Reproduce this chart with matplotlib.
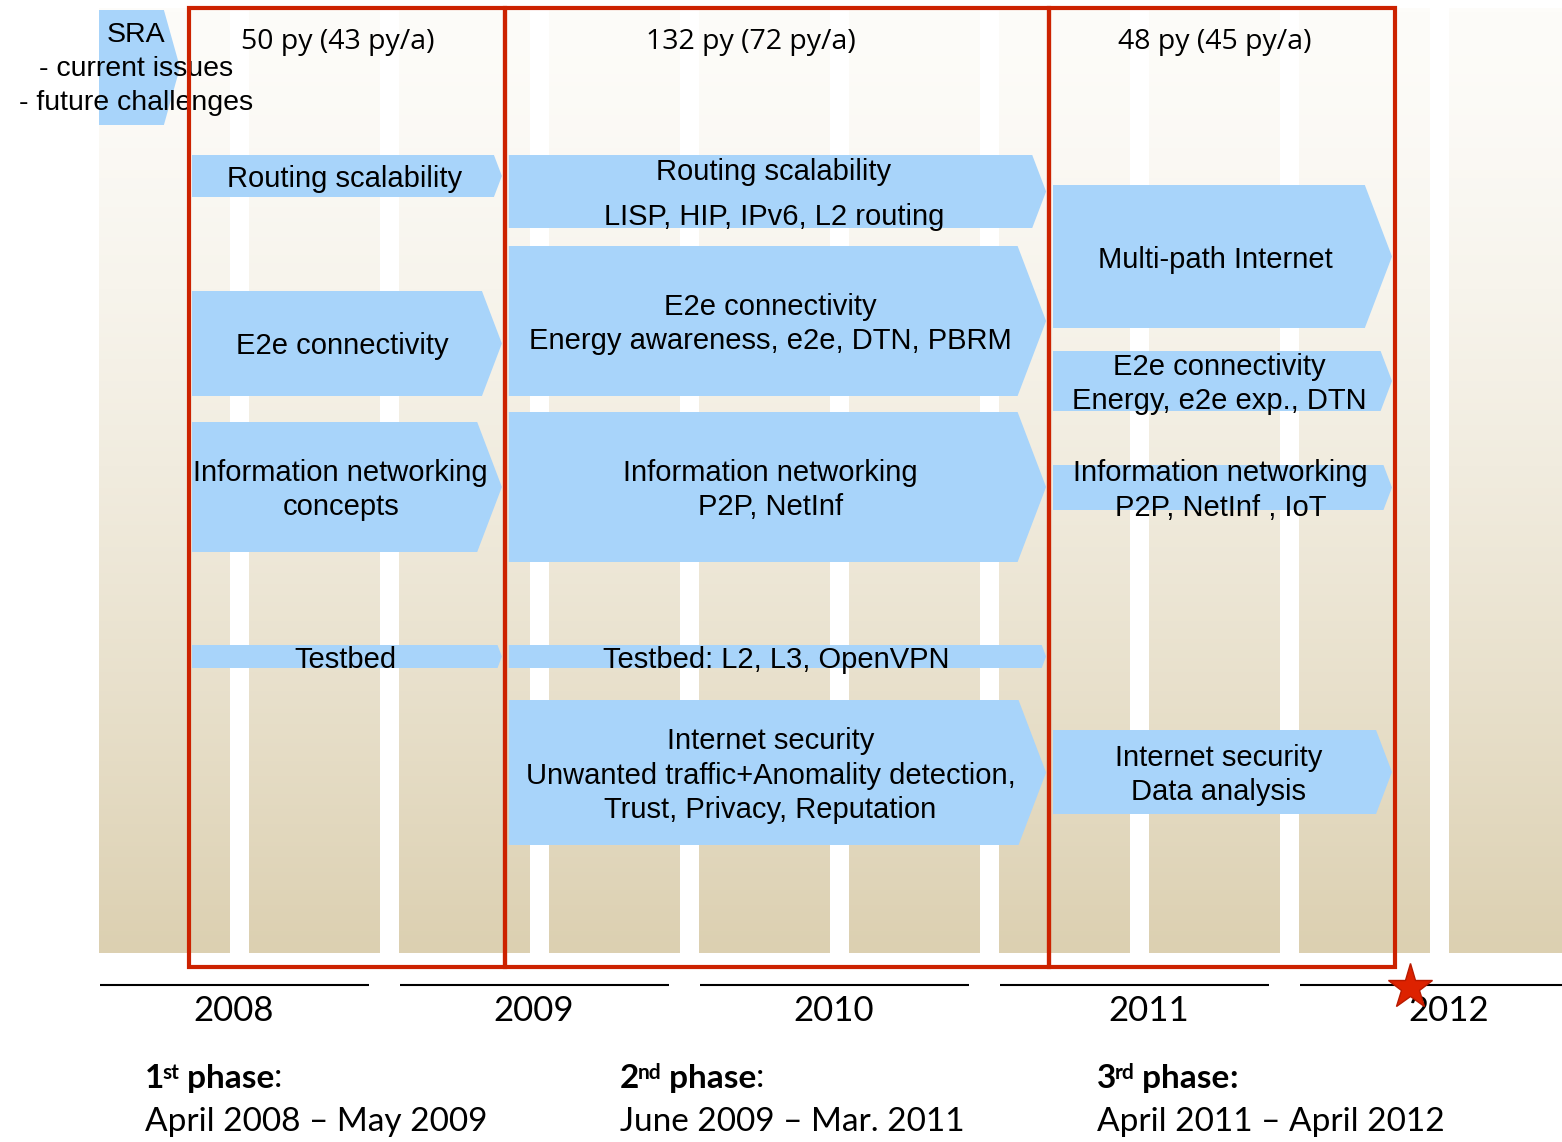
import numpy as np
import matplotlib.pyplot as plt
from matplotlib.patches import Polygon, Rectangle

# ---- data ----
years = [2008, 2009, 2010, 2011, 2012]
phase_num = ['1', '2', '3']
phase_sup = ['st', 'nd', 'rd']
phase_start = [2008.30, 2009.353, 2011.167]
phase_end = [2009.353, 2011.167, 2012.32]
phase_effort = ['50 py (43 py/a)', '132 py (72 py/a)', '48 py (45 py/a)']
phase_dates = ['April 2008 – May 2009', 'June 2009 – Mar. 2011', 'April 2011 – April 2012']
phase_colon_bold = [False, False, True]
deadline = 2012.37

sra_label = 'SRA\n- current issues\n- future challenges'

p1_labels = ['Routing scalability', 'E2e connectivity',
             'Information networking\nconcepts', 'Testbed']
p2_labels = ['Routing scalability\nLISP, HIP, IPv6, L2 routing',
             'E2e connectivity\nEnergy awareness, e2e, DTN, PBRM',
             'Information networking\nP2P, NetInf',
             'Testbed: L2, L3, OpenVPN',
             'Internet security\nUnwanted traffic+Anomality detection,\nTrust, Privacy, Reputation']
p3_labels = ['Multi-path Internet',
             'E2e connectivity\nEnergy, e2e exp., DTN',
             'Information networking\nP2P, NetInf , IoT',
             'Internet security\nData analysis']

# ---- layout (lanes in pixels from the top) ----
p1_lanes = [(155, 197), (291, 396), (422, 552), (645, 668)]
p2_lanes = [(155, 228), (246, 396), (412, 562), (645, 668), (700, 845)]
p3_lanes = [(185, 328), (351, 411), (465, 510), (730, 814)]
p2_spacing = [1.75, 1.3, 1.3, 1.3, 1.3]
effort_x = [2008.797, 2010.173, 2011.72]
phase_text_x = [2008.153, 2009.737, 2011.327]
year_nudge = [0.45, 0.45, 0.45, 0.50, 0.50]

BLUE = '#A8D4FA'
RED = '#CC2200'
ARIAL = 'Liberation Sans'
CALIBRI = 'Lato'

fig = plt.figure(figsize=(15.62, 11.42), dpi=100)
ax = fig.add_axes([0, 0, 1, 1])
x0, x1 = 2008 - 99 / 300, 2008 + 1463 / 300
yr_per_px = (x1 - x0) / 1562

# background half-year columns with a vertical gradient
top_c = np.array([253, 252, 249]) / 255
bot_c = np.array([220, 208, 177]) / 255
t = np.linspace(0, 1, 256) ** 1.4
grad = (top_c[None, :] + (bot_c - top_c)[None, :] * t[:, None])[:, None, :]
for k in range(10):
    xs = years[0] + 0.5 * k
    ax.imshow(grad, extent=(xs, xs + 0.436, 953, 8), aspect='auto', zorder=0)


def arrow(xa, xb, top, bottom, label, spacing=1.3, ratio=0.19):
    tip = ratio * (bottom - top) * yr_per_px
    mid = (top + bottom) / 2
    pts = [(xa, top), (xb - tip, top), (xb, mid), (xb - tip, bottom), (xa, bottom)]
    ax.add_patch(Polygon(pts, closed=True, fc=BLUE, ec='none', zorder=2))
    ax.text((xa + xb - tip / 2) / 2, mid + 3, label, ha='center', va='center',
            multialignment='center', fontsize=21, family=ARIAL,
            linespacing=spacing, zorder=4)


# SRA
arrow(years[0], phase_start[0] - 0.03, 10, 125, '', ratio=0.14)
ax.text(2008.123, 69, sra_label, ha='center', va='center', multialignment='center',
        fontsize=20.5, family=ARIAL, linespacing=1.38, zorder=4)

lanes = [p1_lanes, p2_lanes, p3_lanes]
labels = [p1_labels, p2_labels, p3_labels]
for i in range(3):
    xa = phase_start[i] + (0.01 if i == 0 else 0.013)
    xb = phase_end[i] - 0.01
    for j, (top, bottom) in enumerate(lanes[i]):
        sp = p2_spacing[j] if i == 1 else 1.3
        arrow(xa, xb, top, bottom, labels[i][j], sp)

# phase boxes
for s, e in zip(phase_start, phase_end):
    ax.add_patch(Rectangle((s, 8), e - s, 959, fill=False, ec=RED, lw=3,
                           joinstyle='miter', zorder=5))

# effort labels
for x, lab in zip(effort_x, phase_effort):
    ax.text(x, 49, lab, ha='center', va='baseline', fontsize=20.5,
            family='Open Sans', zorder=4)

# time axis
for y, nud in zip(years, year_nudge):
    ax.hlines(985, y + 0.003, y + 0.9, color='black', lw=1.5, zorder=3)
    ax.text(y + nud, 1021, str(y), ha='center', va='baseline', fontsize=25,
            family=CALIBRI, zorder=4)
ax.plot([deadline], [987], marker='*', ms=34, color='#DD2200', mec='#B81A00',
        mew=1, zorder=6)

# phase descriptions
for i in range(3):
    t1 = ax.text(phase_text_x[i], 1088, phase_num[i], ha='left', va='baseline',
                 fontsize=24, fontweight='bold', family=CALIBRI)
    sup = ax.annotate(phase_sup[i], xy=(1, 1), xycoords=t1, xytext=(-1.5, 1),
                      textcoords='offset points', ha='left', va='top',
                      fontsize=15, fontweight='bold', family=CALIBRI)
    ph = ax.annotate(' phase', xy=(1, 0), xycoords=(sup, t1), ha='left', va='bottom',
                     fontsize=24, fontweight='bold', family=CALIBRI)
    ax.annotate(':', xy=(1, 0), xycoords=ph, ha='left', va='bottom', fontsize=24,
                fontweight='bold' if phase_colon_bold[i] else 'normal', family=CALIBRI)
    ax.text(phase_text_x[i], 1131, phase_dates[i], ha='left', va='baseline',
            fontsize=24, family=CALIBRI)

ax.set_xlim(x0, x1)
ax.set_ylim(1142, 0)
ax.axis('off')
fig.savefig('out.png', dpi=100)
